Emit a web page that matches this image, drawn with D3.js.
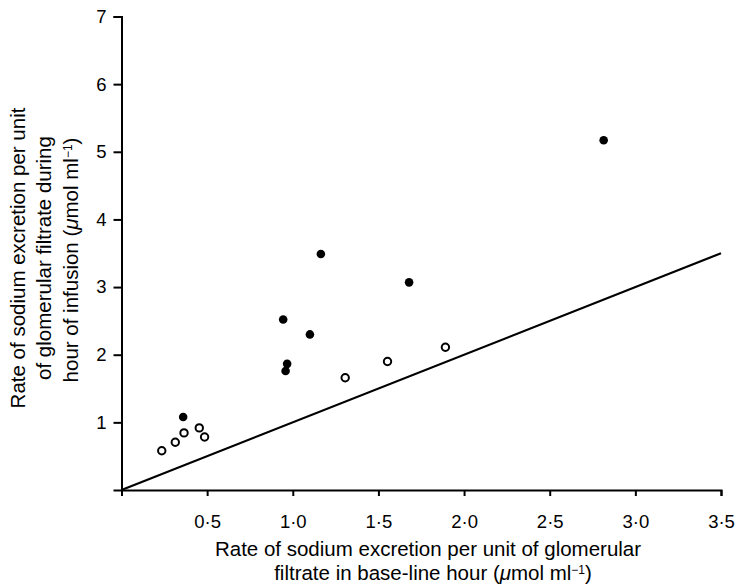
<!DOCTYPE html>
<html><head><meta charset="utf-8">
<script src="https://cdn.jsdelivr.net/npm/d3@7"></script>
<style>body{margin:0;background:#fff}svg{display:block}text{font-family:"Liberation Sans",Arial,sans-serif;fill:#000}</style>
</head><body><svg id="c" width="740" height="585"></svg>
<script>
// Data
const filledX = [0.36, 0.944, 0.958, 0.967, 1.10, 1.164, 1.679, 2.815];
const filledY = [1.08, 2.52, 1.76, 1.865, 2.30, 3.49, 3.07, 5.17];
const openX = [0.235, 0.314, 0.365, 0.454, 0.485, 1.306, 1.553, 1.891];
const openY = [0.58, 0.706, 0.844, 0.918, 0.784, 1.66, 1.90, 2.11];
const xTicks = [0.5, 1.0, 1.5, 2.0, 2.5, 3.0, 3.5];
const xTickLabels = ["0·5", "1·0", "1·5", "2·0", "2·5", "3·0", "3·5"];
const yTicks = [1, 2, 3, 4, 5, 6, 7];
const yTickLabels = ["1", "2", "3", "4", "5", "6", "7"];
const identityLine = [0, 3.5];

const svg = d3.select("#c");
const x = d3.scaleLinear().domain([0, 3.5]).range([121.5, 721]);
const y = d3.scaleLinear().domain([0, 7]).range([490, 16.5]);
const FONT = '"Liberation Sans",Arial,sans-serif';

// axes
const xAxis = d3.axisBottom(x).tickValues(xTicks).tickFormat((d, i) => xTickLabels[i]).tickSizeOuter(0).tickSize(6).tickPadding(19);
const gx = svg.append("g").attr("transform", `translate(0,${y(0)})`).call(xAxis);
gx.selectAll("text").attr("font-size", 18.5).attr("font-family", FONT);

const yAxis = d3.axisLeft(y).tickValues(yTicks).tickFormat((d, i) => yTickLabels[i]).tickSizeOuter(0).tickSize(8).tickPadding(7);
const gy = svg.append("g").attr("transform", `translate(${x(0)},0)`).call(yAxis);
gy.selectAll("text").attr("font-size", 18.5).attr("font-family", FONT);
svg.selectAll(".domain").attr("stroke", "#000").attr("stroke-width", 2);
svg.selectAll(".tick line").attr("stroke", "#000").attr("stroke-width", 2);
svg.selectAll(".tick text").attr("fill", "#000");

// identity line
svg.append("line")
  .attr("x1", x(identityLine[0])).attr("y1", y(identityLine[0]))
  .attr("x2", x(identityLine[1])).attr("y2", y(identityLine[1]))
  .attr("stroke", "#000").attr("stroke-width", 2.2);

// points
svg.append("g").selectAll("circle").data(filledX).join("circle")
  .attr("cx", d => x(d)).attr("cy", (d, i) => y(filledY[i])).attr("r", 4.3).attr("fill", "#000");
svg.append("g").selectAll("circle").data(openX).join("circle")
  .attr("cx", d => x(d)).attr("cy", (d, i) => y(openY[i])).attr("r", 3.7)
  .attr("fill", "#fff").attr("stroke", "#000").attr("stroke-width", 2);

// x title
svg.append("text").attr("text-anchor", "middle").attr("font-size", 20.5)
  .attr("x", 428).attr("y", 556).text("Rate of sodium excretion per unit of glomerular");
const l2 = svg.append("text").attr("text-anchor", "middle").attr("font-size", 20.5)
  .attr("x", 433).attr("y", 580);
l2.append("tspan").text("filtrate in base-line hour (");
l2.append("tspan").attr("font-style", "italic").text("μ");
l2.append("tspan").text("mol ml");
l2.append("tspan").attr("font-size", 12).attr("dy", -6).text("−1");
l2.append("tspan").attr("dy", 6).text(")");

// y title
const yt = svg.append("text").attr("text-anchor", "middle").attr("font-size", 20.5)
  .attr("transform", "rotate(-90)");
yt.append("tspan").attr("x", -258).attr("y", 25).text("Rate of sodium excretion per unit");
yt.append("tspan").attr("x", -258).attr("y", 51).text("of glomerular filtrate during");
const y3 = svg.append("text").attr("text-anchor", "middle").attr("font-size", 20.5)
  .attr("transform", "rotate(-90)").attr("x", -260).attr("y", 78);
y3.append("tspan").text("hour of infusion (");
y3.append("tspan").attr("font-style", "italic").text("μ");
y3.append("tspan").text("mol ml");
y3.append("tspan").attr("font-size", 12).attr("dy", -6).text("−1");
y3.append("tspan").attr("dy", 6).text(")");
</script></body></html>
